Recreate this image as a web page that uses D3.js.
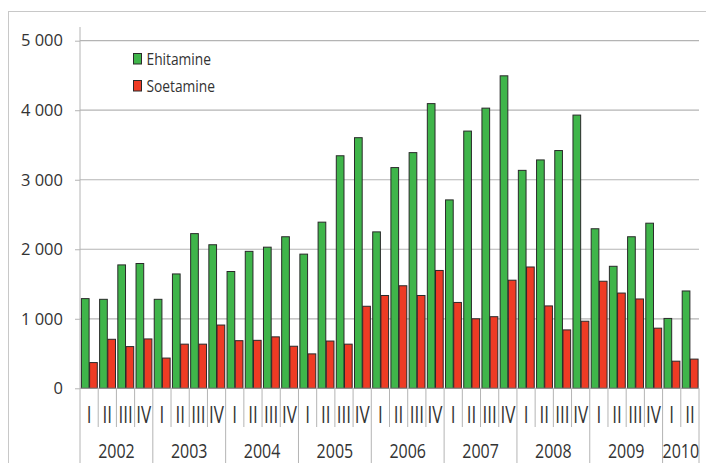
<!DOCTYPE html>
<html lang="et">
<head>
<meta charset="UTF-8">
<title>Ehitamine ja soetamine</title>
<style>
    body { margin: 0; background: #fff; overflow: hidden; }
    text { font-family: "Open Sans", sans-serif; fill: #333; }
</style>
</head>
<body>
<div id="chart"></div>
<script src="https://d3js.org/d3.v7.min.js"></script>
<script>
// years and how many quarters each one has in the data
const years = ["2002", "2003", "2004", "2005", "2006", "2007", "2008", "2009", "2010"];
const quartersPerYear = [4, 4, 4, 4, 4, 4, 4, 4, 2];
const quarterLabels = ["I", "II", "III", "IV"];
const seriesNames = ["Ehitamine", "Soetamine"];

const ehitamine = [1290, 1280, 1775, 1795, 1280, 1645, 2225, 2065, 1680, 1970, 2030, 2180,
    1930, 2390, 3345, 3605, 2250, 3175, 3390, 4095, 2710, 3700, 4030, 4495,
    3135, 3285, 3420, 3930, 2295, 1755, 2180, 2375, 1005, 1400];
const soetamine = [370, 705, 600, 710, 435, 635, 635, 910, 685, 690, 740, 605,
    495, 680, 635, 1180, 1335, 1475, 1335, 1695, 1235, 1000, 1030, 1555,
    1745, 1185, 840, 965, 1540, 1370, 1285, 865, 390, 420];
const yTicks = [0, 1000, 2000, 3000, 4000, 5000];

const colors = { Ehitamine: "#3fb54a", Soetamine: "#ee3b24" };

const width = 706, height = 463;
const plotLeft = 80, plotRight = 699, plotTop = 40.7, plotBottom = 388.3;

// build category list
const cats = [];
years.forEach((yr, yi) => {
    for (let q = 0; q < quartersPerYear[yi]; q++) {
        cats.push({ id: yr + "-" + q, year: yr, q: q });
    }
});
const rows = cats.map((c, i) => ({ ...c, Ehitamine: ehitamine[i], Soetamine: soetamine[i] }));

const svg = d3.select("#chart").append("svg")
    .attr("width", width)
    .attr("height", height);

// outer frame
svg.append("rect")
    .attr("x", 8.5).attr("y", 11.5)
    .attr("width", 720).attr("height", 500)
    .attr("fill", "none")
    .attr("stroke", "#c8c8c8");

const x = d3.scaleBand()
    .domain(cats.map(c => c.id))
    .range([plotLeft, plotRight])
    .paddingInner(0.1)
    .paddingOuter(0.05);
const xs = d3.scaleBand()
    .domain(seriesNames)
    .range([0, x.bandwidth()]);
const y = d3.scaleLinear().domain([0, 5000]).range([plotBottom, plotTop]);
const step = x.step();

// gridlines
svg.append("g").selectAll("line")
    .data(yTicks.filter(t => t > 0))
    .enter().append("line")
    .attr("x1", plotLeft).attr("x2", plotRight)
    .attr("y1", d => y(d)).attr("y2", d => y(d))
    .attr("stroke", "#b4b4b4")
    .attr("stroke-width", 1.2);

// y axis
const locale = d3.formatLocale({ decimal: ",", thousands: "\u00a0", grouping: [3], currency: ["", ""] });
const yAxis = svg.append("g")
    .attr("transform", `translate(${plotLeft},0)`)
    .call(d3.axisLeft(y).tickValues(yTicks).tickSize(5).tickPadding(12).tickFormat(locale.format(",d")));
yAxis.select(".domain").remove();
yAxis.selectAll(".tick line").attr("stroke", "#b4b4b4");
yAxis.selectAll("text")
    .style("font-size", "16.5px")
    .style("font-family", "'Open Sans', sans-serif")
    .attr("fill", "#333");
svg.append("line")
    .attr("x1", plotLeft).attr("x2", plotLeft)
    .attr("y1", 27).attr("y2", plotBottom)
    .attr("stroke", "#b4b4b4");

// bars
const groups = svg.append("g").selectAll("g")
    .data(rows)
    .enter().append("g")
    .attr("transform", d => `translate(${x(d.id)},0)`);
groups.selectAll("rect")
    .data(d => seriesNames.map(k => ({ key: k, value: d[k] })))
    .enter().append("rect")
    .attr("x", d => xs(d.key) + 0.5)
    .attr("width", xs.bandwidth() - 0.5)
    .attr("y", d => y(d.value))
    .attr("height", d => plotBottom - y(d.value))
    .attr("fill", d => colors[d.key])
    .attr("stroke", "#2a2a2a")
    .attr("stroke-width", 1);

// x axis baseline and category dividers
svg.append("line")
    .attr("x1", plotLeft).attr("x2", plotRight)
    .attr("y1", plotBottom).attr("y2", plotBottom)
    .attr("stroke", "#a0a0a0");

const bounds = d3.range(cats.length + 1).map(i => {
    const yearStart = i === 0 || i === cats.length || cats[i].q === 0;
    return { x: plotLeft + i * step, full: yearStart };
});
svg.append("g").selectAll("line")
    .data(bounds)
    .enter().append("line")
    .attr("x1", d => d.x).attr("x2", d => d.x)
    .attr("y1", plotBottom)
    .attr("y2", d => d.full ? height : 427)
    .attr("stroke", "#b4b4b4");

// quarter labels
svg.append("g").selectAll("text")
    .data(cats)
    .enter().append("text")
    .attr("transform", d => `translate(${x(d.id) + x.bandwidth() / 2},423) scale(0.74,1)`)
    .attr("text-anchor", "middle")
    .style("font-size", "23px")
    .text(d => quarterLabels[d.q]);

// year labels
let start = 0;
const yearPos = years.map((yr, yi) => {
    const s = start;
    start += quartersPerYear[yi];
    return { year: yr, cx: plotLeft + (s + quartersPerYear[yi] / 2) * step };
});
svg.append("g").selectAll("text")
    .data(yearPos)
    .enter().append("text")
    .attr("transform", d => `translate(${d.cx},458) scale(0.82,1)`)
    .attr("text-anchor", "middle")
    .style("font-size", "19.5px")
    .text(d => d.year);

// legend
const legend = svg.append("g").selectAll("g")
    .data(seriesNames)
    .enter().append("g")
    .attr("transform", (d, i) => `translate(133.5,${53.5 + i * 27})`);
legend.append("rect")
    .attr("width", 8).attr("height", 10.5)
    .attr("fill", d => colors[d])
    .attr("stroke", "#2a2a2a");
legend.append("text")
    .attr("transform", "translate(13,11.5) scale(0.81,1)")
    .style("font-size", "17px")
    .text(d => d);
</script>
</body>
</html>
